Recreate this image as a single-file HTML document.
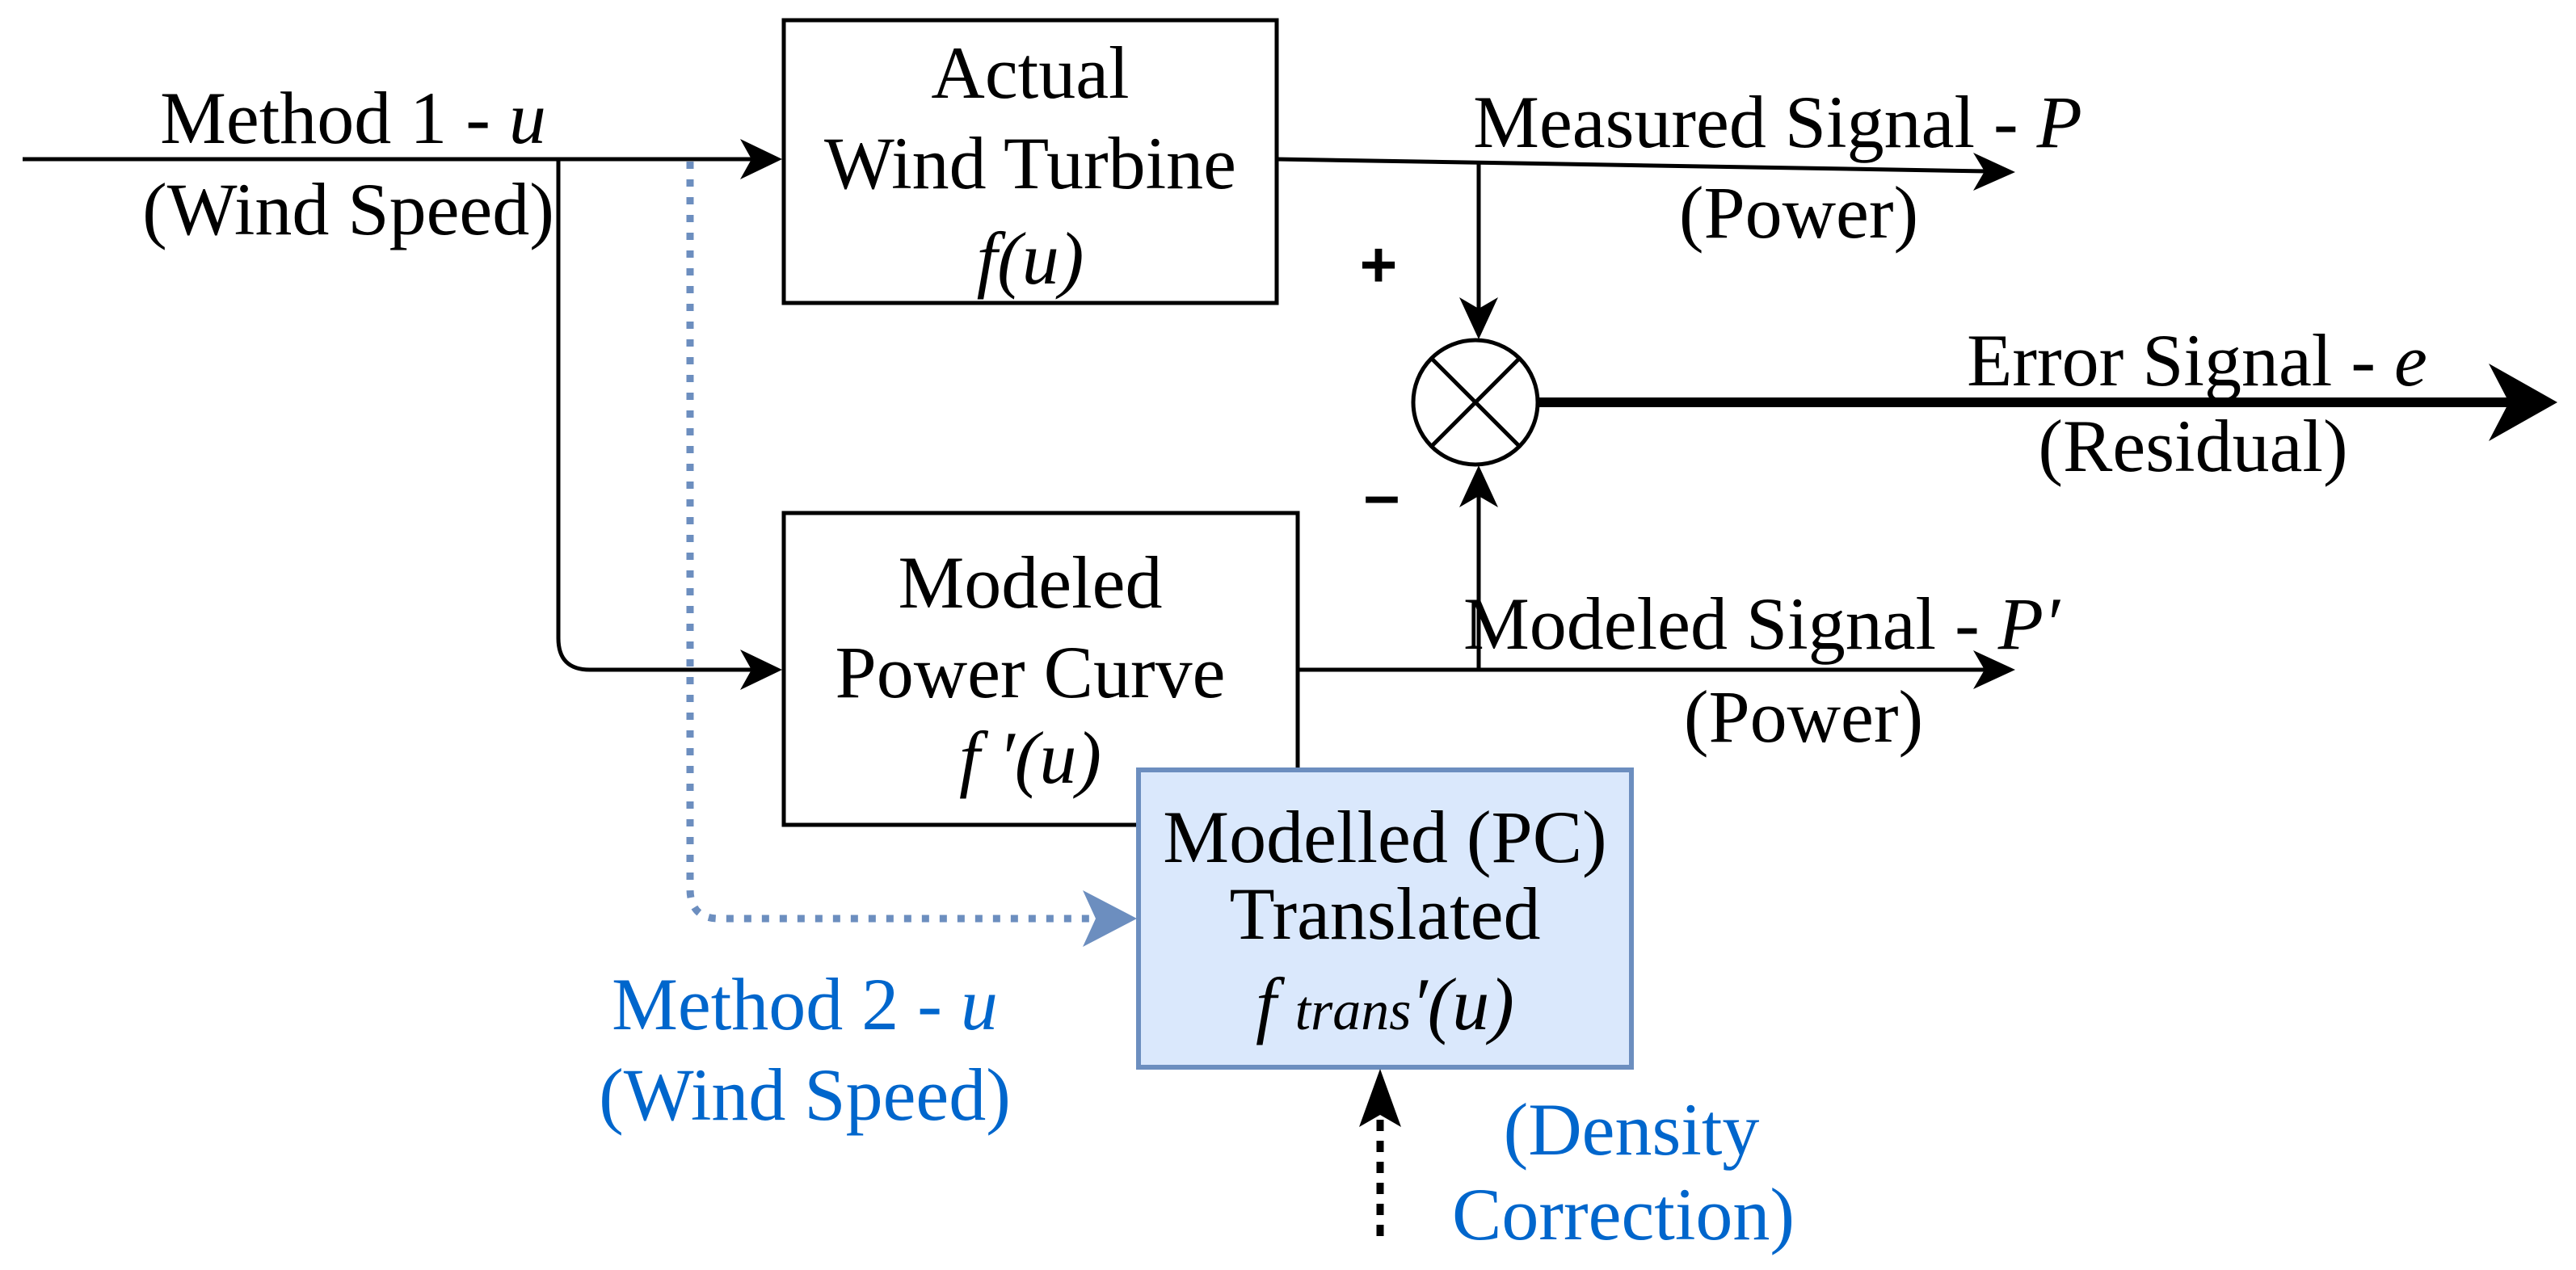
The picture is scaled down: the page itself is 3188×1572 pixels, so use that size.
<!DOCTYPE html>
<html><head><meta charset="utf-8"><style>
html,body{margin:0;padding:0;background:#fff}
svg{display:block}
text{font-family:"Liberation Serif",serif;font-size:92px;fill:#000}
.b{fill:#0066cc}
</style></head><body>
<svg width="3188" height="1572" viewBox="0 0 3188 1572" xmlns="http://www.w3.org/2000/svg">
<defs>
<marker id="ah" markerWidth="10" markerHeight="10" refX="9" refY="5" orient="auto" markerUnits="userSpaceOnUse" viewBox="0 0 10 10">
</marker>
</defs>
<!-- boxes -->
<rect x="970" y="25" width="610" height="350" fill="#fff" stroke="#000" stroke-width="5"/>
<rect x="970" y="635" width="636" height="386" fill="#fff" stroke="#000" stroke-width="5"/>
<!-- input line -->
<line x1="28" y1="197" x2="930" y2="197" stroke="#000" stroke-width="5"/>
<polygon points="968,197 916,172 930,197 916,222" fill="#000"/>
<!-- branch -->
<path d="M691,197 V790 Q691,829 730,829 H930" fill="none" stroke="#000" stroke-width="5"/>
<polygon points="968,829 916,804 930,829 916,854" fill="#000"/>
<!-- dotted blue -->
<path d="M854,200 V1100 Q854,1137 890,1137 H1370" fill="none" stroke="#6c8ebf" stroke-width="9" stroke-dasharray="9,13"/>
<polygon points="1407,1137 1340,1102 1356,1137 1340,1172" fill="#6c8ebf"/>
<!-- blue box -->
<rect x="1409" y="953" width="610" height="368" fill="#dae8fc" stroke="#6c8ebf" stroke-width="6"/>
<!-- measured line -->
<line x1="1580" y1="197" x2="2460" y2="212" stroke="#000" stroke-width="5"/>
<polygon points="2494,213 2442,189 2456,212 2442,236" fill="#000"/>
<line x1="1830" y1="203" x2="1830" y2="385" stroke="#000" stroke-width="5"/>
<polygon points="1830,420 1806,368 1830,382 1854,368" fill="#000"/>
<!-- circle -->
<circle cx="1826" cy="498" r="77" fill="#fff" stroke="#000" stroke-width="5"/>
<line x1="1772" y1="444" x2="1880" y2="552" stroke="#000" stroke-width="5"/>
<line x1="1880" y1="444" x2="1772" y2="552" stroke="#000" stroke-width="5"/>
<!-- error arrow -->
<line x1="1903" y1="498" x2="3110" y2="498" stroke="#000" stroke-width="12"/>
<polygon points="3165,498 3080,450 3105,498 3080,546" fill="#000"/>
<!-- modeled line -->
<line x1="1606" y1="829" x2="2460" y2="829" stroke="#000" stroke-width="5"/>
<polygon points="2494,829 2442,805 2456,829 2442,853" fill="#000"/>
<line x1="1830" y1="829" x2="1830" y2="612" stroke="#000" stroke-width="5"/>
<polygon points="1830,576 1806,628 1830,614 1854,628" fill="#000"/>
<!-- density arrow -->
<line x1="1708" y1="1530" x2="1708" y2="1375" stroke="#000" stroke-width="9" stroke-dasharray="14,12"/>
<polygon points="1708,1323 1682,1395 1708,1380 1734,1395" fill="#000"/>
<!-- +/- -->
<text x="1706" y="355" text-anchor="middle" font-weight="bold" style="font-family:'Liberation Sans',sans-serif;font-size:80px">+</text>
<text x="1710" y="640" text-anchor="middle" font-weight="bold" style="font-family:'Liberation Sans',sans-serif;font-size:80px">–</text>
<!-- labels -->
<text x="437" y="177" text-anchor="middle">Method 1 -  <tspan font-style="italic">u</tspan></text>
<text x="431" y="290" text-anchor="middle">(Wind Speed)</text>
<text x="1275" y="121" text-anchor="middle">Actual</text>
<text x="1275" y="233" text-anchor="middle">Wind Turbine</text>
<text x="1275" y="351" text-anchor="middle" font-style="italic">f(u)</text>
<text x="1275" y="752" text-anchor="middle">Modeled</text>
<text x="1275" y="863" text-anchor="middle">Power Curve</text>
<text x="1275" y="969" text-anchor="middle" font-style="italic">f ′(u)</text>
<text x="1714" y="1067" text-anchor="middle">Modelled (PC)</text>
<text x="1714" y="1162" text-anchor="middle">Translated</text>
<text x="1714" y="1274" text-anchor="middle" font-style="italic">f <tspan font-size="70">trans</tspan>′(u)</text>
<text x="2200" y="182" text-anchor="middle">Measured Signal - <tspan font-style="italic">P</tspan></text>
<text x="2226" y="294" text-anchor="middle">(Power)</text>
<text x="2719" y="477" text-anchor="middle">Error Signal - <tspan font-style="italic">e</tspan></text>
<text x="2714" y="583" text-anchor="middle">(Residual)</text>
<text x="2180" y="803" text-anchor="middle">Modeled Signal - <tspan font-style="italic">P′</tspan></text>
<text x="2232" y="918" text-anchor="middle">(Power)</text>
<text class="b" x="996" y="1274" text-anchor="middle">Method 2 - <tspan font-style="italic">u</tspan></text>
<text class="b" x="996" y="1386" text-anchor="middle">(Wind Speed)</text>
<text class="b" x="2019" y="1429" text-anchor="middle">(Density</text>
<text class="b" x="2009" y="1534" text-anchor="middle">Correction)</text>
</svg>
</body></html>
